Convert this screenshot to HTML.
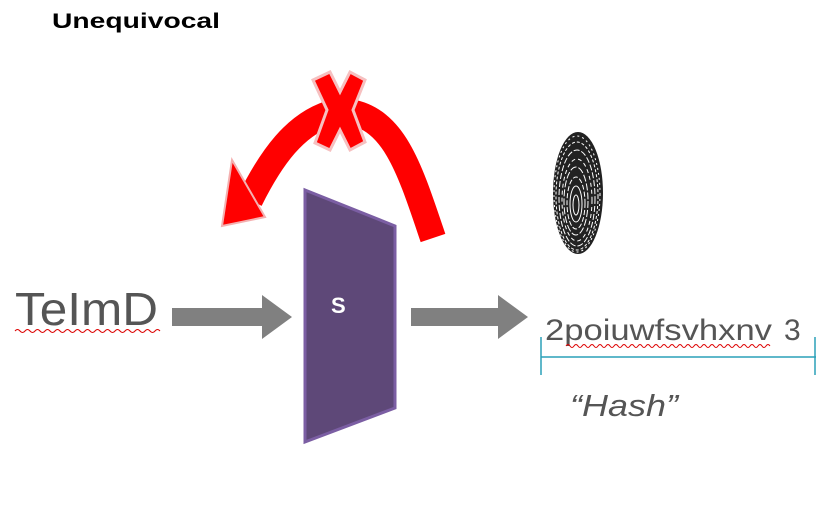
<!DOCTYPE html>
<html><head><style>
body{margin:0;background:#fff;}
svg{display:block;}
</style></head><body>
<svg width="828" height="507" viewBox="0 0 828 507" xmlns="http://www.w3.org/2000/svg">
<text x="52" y="28" font-family="Liberation Sans, sans-serif" font-weight="bold" font-size="21" fill="#000" textLength="168" lengthAdjust="spacingAndGlyphs">Unequivocal</text>
<!-- red arrow -->
<g fill="none" stroke="#ff0000" stroke-width="26">
<path d="M335,112 C295,122 270,160 250,200"/>
<path d="M350,112 C395,120 410,170 433,238"/>
</g>
<polygon points="222,226 232,160 265,217" fill="#ff0000" stroke="#f4b0b0" stroke-width="2"/>
<path d="M313,80 L330,72 L340,92 L350,72 L365,80 L353,110 L365,142 L350,150 L340,130 L330,150 L315,143 L327,110 Z" fill="#ff0000" stroke="#f6c0c0" stroke-width="3"/>
<!-- fingerprint -->
<g>
<ellipse cx="578" cy="193" rx="25" ry="61" fill="#222"/>
<g fill="none" stroke="#fff" stroke-width="1">
<ellipse cx="577" cy="196" rx="21" ry="54" stroke-dasharray="3 2"/>
<ellipse cx="577" cy="198" rx="18" ry="48" stroke-dasharray="6 2"/>
<ellipse cx="577" cy="200" rx="15" ry="41" stroke-dasharray="4 3"/>
<ellipse cx="576" cy="201" rx="12" ry="34" stroke-dasharray="7 2"/>
<ellipse cx="576" cy="203" rx="9" ry="26" stroke-dasharray="5 2"/>
<ellipse cx="576" cy="204" rx="6" ry="18"/>
<ellipse cx="576" cy="205" rx="3" ry="10"/>
<ellipse cx="577" cy="194" rx="23" ry="58" stroke-dasharray="2 3"/>
</g>
</g>
<!-- purple -->
<polygon points="305,190 395,226 395,408 305,442" fill="#5e4878" stroke="#7b5ea3" stroke-width="3"/>
<text x="331" y="313" font-family="Liberation Sans, sans-serif" font-weight="bold" font-size="22" fill="#fff">S</text>
<!-- gray arrows -->
<polygon points="172,308 262,308 262,295 292,317 262,339 262,326 172,326" fill="#808080"/>
<polygon points="411,308 498,308 498,295 528,317 498,339 498,326 411,326" fill="#808080"/>
<text x="15" y="325" font-family="Liberation Sans, sans-serif" font-size="46" fill="#555" textLength="143" lengthAdjust="spacingAndGlyphs">TeImD</text>
<path d="M15,331 q2.5,-3 5,0 t5,0 t5,0 t5,0 t5,0 t5,0 t5,0 t5,0 t5,0 t5,0 t5,0 t5,0 t5,0 t5,0 t5,0 t5,0 t5,0 t5,0 t5,0 t5,0 t5,0 t5,0 t5,0 t5,0 t5,0 t5,0 t5,0 t5,0 t5,0" fill="none" stroke="#d00" stroke-width="1"/>
<text x="545" y="340" font-family="Liberation Sans, sans-serif" font-size="30" fill="#555" textLength="227" lengthAdjust="spacingAndGlyphs">2poiuwfsvhxnv</text>
<text x="784" y="340" font-family="Liberation Sans, sans-serif" font-size="30" fill="#555">3</text>
<path d="M566,346 q2,-3 4,0 t4,0 t4,0 t4,0 t4,0 t4,0 t4,0 t4,0 t4,0 t4,0 t4,0 t4,0 t4,0 t4,0 t4,0 t4,0 t4,0 t4,0 t4,0 t4,0 t4,0 t4,0 t4,0 t4,0 t4,0 t4,0 t4,0 t4,0 t4,0 t4,0 t4,0 t4,0 t4,0 t4,0 t4,0 t4,0 t4,0 t4,0 t4,0 t4,0 t4,0 t4,0 t4,0 t4,0 t4,0 t4,0 t4,0 t4,0 t4,0 t4,0 t4,0" fill="none" stroke="#d00" stroke-width="1"/>
<g stroke="#2aa0b8" stroke-width="1.5">
<line x1="541" y1="357" x2="816" y2="357"/>
<line x1="541" y1="337" x2="541" y2="375"/>
<line x1="815" y1="337" x2="815" y2="375"/>
</g>
<text x="570" y="416" font-family="Liberation Sans, sans-serif" font-style="italic" font-size="31" fill="#555" textLength="108" lengthAdjust="spacingAndGlyphs">“Hash”</text>
</svg>
</body></html>
